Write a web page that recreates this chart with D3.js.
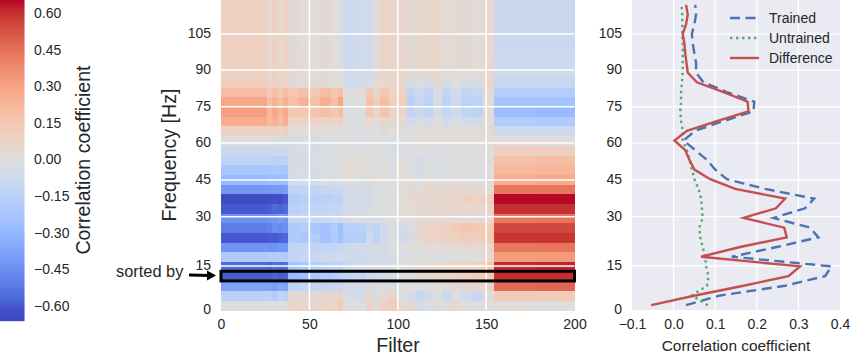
<!DOCTYPE html>
<html>
<head>
<meta charset="utf-8">
<script src="https://cdn.jsdelivr.net/npm/d3@7"></script>
<style>
html, body { margin: 0; padding: 0; background: #fff; }
svg { display: block; font-family: "Liberation Sans", Arial, sans-serif; }
text { fill: #262626; }
</style>
</head>
<body>
<svg id="chart" width="850" height="356"></svg>
<script>
var freqTicks = [0, 15, 30, 45, 60, 75, 90, 105];
// where each frequency label sits, in heatmap rows (the axis is not even)
var freqTickRows = [0, 4.54, 9.63, 13.42, 17.23, 20.98, 24.77, 28.48];
var filterTicks = [0, 50, 100, 150, 200];
var corrTicks = [-0.1, 0, 0.1, 0.2, 0.3, 0.4];
var colorbarTicks = [-0.6, -0.45, -0.3, -0.15, 0, 0.15, 0.3, 0.45, 0.6];

// column groups of the heatmap
var filterEdges = [0, 26, 29, 32, 35, 38, 44, 50, 56, 62, 66, 69, 75, 82, 86, 90, 95, 100, 105, 110, 115, 120, 125, 130, 136, 142, 148, 154.5, 178, 200];

// correlation x 100, first row is the lowest band
var corrRows = [
  [0, 0, 0, -1, 0, 7, 6, 6, 8, 6, 13, 1, -1, 9, 3, 10, 12, 5, 3, -4, -2, 3, -2, 4, 0, -2, 1, 2, 1],
  [-16, -14, -18, -12, -15, 3, 4, 3, 6, 3, 9, -3, -5, 4, -3, 5, 8, -2, -3, -10, -6, 0, -8, 0, -6, -10, 2, 12, 12],
  [-38, -38, -40, -36, -38, -14, -11, -12, -10, -9, -9, -6, -5, -4, -2, -2, -3, 0, 1, -1, 0, 1, 2, 3, 4, 5, 7, 46, 48],
  [-59, -59, -58, -59, -58, -28, -26, -22, -20, -18, -16, -13, -11, -8, -7, -5, -3, -1, 1, 3, 4, 5, 7, 8, 10, 12, 14, 60, 60],
  [-56, -58, -55, -57, -55, -25, -22, -18, -16, -14, -16, -9, -6, -6, -4, -4, -1, 0, 2, 3, 5, 4, 6, 8, 7, 9, 16, 61, 62],
  [-20, -18, -20, -18, -20, -12, -10, -10, -8, -7, -7, -7, -8, -5, -6, -4, -3, -2, -1, -1, 0, -1, 0, 0, 1, 1, 5, 32, 33],
  [-43, -44, -43, -42, -42, -13, -12, -13, -12, -11, -11, -8, -5, -5, -3, -4, -1, -1, 1, 0, 2, 1, 3, 2, 3, 4, 6, 43, 44],
  [-60, -59, -60, -58, -57, -20, -22, -18, -24, -20, -25, -18, -17, -8, -14, -6, -2, -8, -3, 4, 8, 8, 9, 10, 12, 11, 14, 59, 59],
  [-51, -49, -45, -47, -45, -20, -18, -22, -24, -19, -26, -16, -16, -10, -14, -6, -2, -6, -2, 5, 8, 8, 10, 12, 16, 14, 14, 55, 55],
  [-44, -43, -42, -40, -42, -11, -10, -10, -9, -8, -8, -4, -3, -3, -2, -2, 1, 2, -1, 4, 3, 4, 3, 2, 4, 3, 5, 43, 44],
  [-60, -59, -57, -58, -56, -16, -14, -13, -12, -11, -10, -5, -4, -3, -1, -1, 1, 2, 2, 5, 3, 5, 4, 6, 5, 4, 7, 60, 60],
  [-65, -65, -62, -63, -60, -18, -16, -16, -15, -14, -13, -6, -7, -5, -2, -1, 2, 2, 5, 3, 6, 4, 7, 6, 9, 8, 12, 65, 65],
  [-42, -42, -41, -41, -40, -14, -12, -13, -11, -9, -9, -4, -3, -5, -1, -2, 1, 2, 3, 2, 5, 3, 6, 4, 3, 5, 4, 43, 44],
  [-28, -27, -27, -26, -27, -5, -3, -4, -2, -3, -1, 1, -2, 3, -2, 2, -1, 1, 2, -1, 2, 0, 2, 1, 2, 0, 2, 26, 27],
  [-22, -22, -21, -22, -22, -3, -2, -3, -1, 0, 1, 2, 3, -1, 2, 1, -2, 2, -1, -3, -1, -2, 0, 1, 0, -1, 0, 22, 23],
  [-14, -14, -15, -14, -15, -3, -4, -2, -3, -2, -1, 3, 2, 0, -1, 1, -2, 2, -2, -4, -2, -3, -1, 0, -1, -2, 2, 18, 19],
  [-9, -9, -8, -9, -8, -3, -2, -3, -2, -2, -1, -1, 0, -1, -1, -2, -3, -1, -2, -1, -1, -2, 0, -1, 0, -1, 2, 10, 10],
  [0, -2, -2, -3, -2, -3, -2, -3, -2, -1, -2, -2, -2, -1, -1, 0, -2, -1, 0, 1, 1, 1, 2, 1, 1, 1, 2, 1, 1],
  [9, 8, 10, 7, 10, 2, 1, 2, 1, 2, 1, -1, -1, 2, -1, 3, 1, 2, -1, 1, 2, 1, 3, 2, 1, 2, 3, -8, -8],
  [26, 21, 25, 20, 25, 8, 8, 8, 8, 8, 9, 0, 0, 5, 2, 6, 3, 3, -6, -3, -5, -1, -5, -2, -5, -6, 2, -19, -20],
  [31, 23, 28, 22, 28, 15, 15, 16, 18, 15, 20, -1, -1, 15, 7, 17, 8, 8, -14, -9, -13, -3, -12, -7, -13, -14, 3, -27, -28],
  [28, 18, 24, 18, 25, 18, 24, 18, 25, 18, 28, -1, 0, 18, 10, 20, 10, 11, -16, -10, -15, -3, -14, -8, -15, -14, 3, -24, -24],
  [20, 13, 18, 14, 18, 15, 18, 15, 20, 15, 18, 1, 1, 13, 6, 14, 8, 8, -13, -8, -12, -2, -11, -6, -12, -10, 4, -18, -18],
  [11, 7, 9, 6, 8, 3, 2, 3, 3, 2, 2, -7, -6, -3, 2, 5, 6, 4, -5, -2, -3, 3, -3, 1, -3, -4, 6, -10, -10],
  [9, 5, 9, 5, 8, 3, 2, 1, 3, 1, -1, -7, -6, -5, 2, 6, 6, 5, 3, 4, 5, 5, 2, 3, 2, 2, 5, -7, -7],
  [9, 5, 9, 5, 8, 3, 2, 1, 3, 1, -2, -8, -7, -6, 2, 7, 7, 5, 3, 4, 6, 6, 2, 4, 3, 2, 5, -8, -8],
  [9, 5, 9, 5, 8, 3, 2, 1, 3, 1, -2, -8, -7, -6, 2, 7, 7, 5, 3, 4, 6, 6, 2, 4, 3, 2, 5, -8, -8],
  [10, 5, 9, 5, 8, 3, 1, 1, 3, 1, -2, -8, -7, -6, 2, 7, 7, 5, 3, 4, 6, 6, 2, 4, 3, 2, 5, -9, -9],
  [10, 5, 9, 5, 8, 3, 1, 1, 3, 1, -2, -8, -7, -6, 2, 7, 7, 5, 3, 4, 6, 6, 2, 4, 3, 2, 5, -9, -9],
  [10, 5, 9, 5, 8, 3, 1, 1, 3, 1, -2, -8, -7, -6, 2, 7, 7, 5, 3, 4, 6, 6, 2, 4, 3, 2, 5, -9, -9],
  [10, 5, 9, 5, 8, 3, 1, 1, 3, 1, -2, -8, -7, -6, 2, 7, 7, 5, 3, 4, 6, 6, 2, 4, 3, 2, 5, -9, -9],
  [10, 5, 9, 5, 8, 3, 1, 1, 3, 1, -2, -8, -7, -6, 2, 7, 7, 5, 3, 4, 6, 6, 2, 4, 3, 2, 5, -9, -9]
];

var trained = [0.03, 0.112, 0.268, 0.364, 0.38, 0.14, 0.248, 0.348, 0.328, 0.24, 0.316, 0.338, 0.22, 0.128, 0.1, 0.08, 0.052, 0.024, 0.052, 0.12, 0.192, 0.194, 0.128, 0.072, 0.054, 0.054, 0.05, 0.046, 0.044, 0.05, 0.054, 0.052];
var untrained = [0.082, 0.044, 0.08, 0.084, 0.078, 0.076, 0.07, 0.064, 0.062, 0.07, 0.068, 0.066, 0.06, 0.05, 0.044, 0.038, 0.032, 0.022, 0.022, 0.018, 0.016, 0.018, 0.018, 0.02, 0.022, 0.022, 0.022, 0.022, 0.021, 0.021, 0.021, 0.019];
var difference = [-0.054, 0.052, 0.168, 0.276, 0.304, 0.066, 0.16, 0.272, 0.266, 0.168, 0.246, 0.268, 0.148, 0.088, 0.05, 0.038, 0.028, 0.002, 0.032, 0.104, 0.18, 0.178, 0.12, 0.056, 0.034, 0.031, 0.028, 0.026, 0.022, 0.03, 0.034, 0.03];

var seriesNames = ["Trained", "Untrained", "Difference"];
var seriesColors = ["#4c72b0", "#55a868", "#c44e52"];
var seriesDash = ["10,5.5", "2.4,3.6", null];
var sortedRow = 3;

// matplotlib coolwarm
var coolwarm = ["#3b4cc0", "#444ecc", "#4d68d7", "#5775e1", "#6282ea", "#6c8ef1", "#779af7", "#82a5fb", "#8db0fe", "#98b9ff", "#a3c2ff", "#aec9fd", "#b8d0f9", "#c2d5f4", "#ccd9ee", "#d5dbe6", "#dddddd", "#e5d8d1", "#ecd3c5", "#f1ccb9", "#f5c4ad", "#f7bba0", "#f7b194", "#f7a687", "#f49a7b", "#f18d6f", "#ec7f63", "#e57058", "#de604d", "#d55042", "#cb3e38", "#c0282f", "#b40426"];

var svg = d3.select("#chart");
var color = d3.scaleSequential(d3.piecewise(d3.interpolateRgb, coolwarm)).domain([-0.655, 0.655]);

var rowY = d3.scaleLinear().domain([0, corrRows.length]).range([310, 0]);
var freqY = d3.scaleLinear().domain(freqTicks).range(freqTickRows.map(rowY));
var filterX = d3.scaleLinear().domain([0, 200]).range([221, 574.5]);
var corrX = d3.scaleLinear().domain([-0.1, 0.4]).range([632, 840]);
var cbarY = d3.scaleLinear().domain([-0.6, 0.6]).range([306, 13]);

// colorbar
svg.append("g").selectAll("rect").data(d3.range(0, 321))
    .enter().append("rect")
    .attr("x", 0)
    .attr("y", function(d) { return d; })
    .attr("width", 24.5)
    .attr("height", 1.2)
    .attr("fill", function(d) { return color(cbarY.invert(d + 0.5)); });

svg.append("g").selectAll("text").data(colorbarTicks)
    .enter().append("text")
    .attr("x", 34)
    .attr("y", function(d) { return cbarY(d); })
    .attr("dy", ".35em")
    .attr("font-size", 14)
    .text(function(d) { return d3.format(".2f")(d).replace("-", "\u2212"); });

svg.append("text")
    .attr("transform", "translate(90,160) rotate(-90)")
    .attr("text-anchor", "middle")
    .attr("font-size", 19.6)
    .text("Correlation coefficient");

// heatmap
var heat = svg.append("g").attr("shape-rendering", "crispEdges");
corrRows.forEach(function(row, i) {
    heat.append("g").selectAll("rect").data(row)
        .enter().append("rect")
        .attr("x", function(d, j) { return filterX(filterEdges[j]); })
        .attr("width", function(d, j) { return filterX(filterEdges[j + 1]) - filterX(filterEdges[j]) + 0.5; })
        .attr("y", rowY(i + 1))
        .attr("height", rowY(i) - rowY(i + 1) + 0.5)
        .attr("fill", function(d) { return color(d / 100); });
});

var heatGrid = svg.append("g").attr("stroke", "#fff").attr("stroke-width", 1.5);
heatGrid.selectAll("line.v").data(filterTicks.slice(1, -1))
    .enter().append("line").attr("class", "v")
    .attr("x1", filterX).attr("x2", filterX)
    .attr("y1", 0).attr("y2", 310);
heatGrid.selectAll("line.h").data(freqTicks.slice(1))
    .enter().append("line").attr("class", "h")
    .attr("y1", freqY).attr("y2", freqY)
    .attr("x1", 221).attr("x2", 574.5);

svg.append("rect")
    .attr("x", filterX(0))
    .attr("y", rowY(sortedRow + 1))
    .attr("width", filterX(200) - filterX(0))
    .attr("height", rowY(sortedRow) - rowY(sortedRow + 1))
    .attr("fill", "none")
    .attr("stroke", "#000")
    .attr("stroke-width", 3);

function cleanAxis(g) {
    g.select(".domain").remove();
    g.selectAll("line").remove();
    g.selectAll("text").attr("font-size", 14).attr("fill", "#262626").style("font-family", "inherit");
}

var minusFmt = function(d) { return String(d).replace("-", "\u2212"); };

svg.append("g").attr("transform", "translate(211,-1)")
    .call(d3.axisLeft(freqY).tickValues(freqTicks).tickSize(0).tickPadding(0))
    .call(cleanAxis);
svg.append("g").attr("transform", "translate(0,319)")
    .call(d3.axisBottom(filterX).tickValues(filterTicks).tickSize(0).tickPadding(0))
    .call(cleanAxis);

svg.append("text")
    .attr("transform", "translate(176,155) rotate(-90)")
    .attr("text-anchor", "middle")
    .attr("font-size", 19.6)
    .text("Frequency [Hz]");
svg.append("text")
    .attr("x", 398).attr("y", 351.5)
    .attr("text-anchor", "middle")
    .attr("font-size", 19.6)
    .text("Filter");

svg.append("text")
    .attr("x", 116).attr("y", 277)
    .attr("font-size", 16.4)
    .text("sorted by");
svg.append("path")
    .attr("d", d3.line()([[189, 275], [210, 275.5]]))
    .attr("stroke", "#000")
    .attr("stroke-width", 3)
    .attr("fill", "none");
svg.append("path")
    .attr("d", d3.line()([[207, 270.5], [216, 275.6], [207, 280.5]]) + "Z")
    .attr("fill", "#000");

// line panel
svg.append("rect")
    .attr("x", 632).attr("y", 0)
    .attr("width", 208).attr("height", 310)
    .attr("fill", "#eaeaf2");

var panelGrid = svg.append("g").attr("stroke", "#fff").attr("stroke-width", 1.3);
panelGrid.selectAll("line.v").data(corrTicks.slice(1, -1))
    .enter().append("line").attr("class", "v")
    .attr("x1", corrX).attr("x2", corrX)
    .attr("y1", 0).attr("y2", 310);
panelGrid.selectAll("line.h").data(freqTicks.slice(1))
    .enter().append("line").attr("class", "h")
    .attr("y1", freqY).attr("y2", freqY)
    .attr("x1", 632).attr("x2", 840);

var lineGen = d3.line()
    .x(function(d) { return corrX(d); })
    .y(function(d, i) { return rowY(i + 0.5); });

[trained, untrained, difference].forEach(function(series, k) {
    svg.append("path")
        .attr("d", lineGen(series))
        .attr("fill", "none")
        .attr("stroke", seriesColors[k])
        .attr("stroke-width", 2.4)
        .attr("stroke-dasharray", seriesDash[k]);
});

svg.append("g").attr("transform", "translate(622,-1)")
    .call(d3.axisLeft(freqY).tickValues(freqTicks).tickSize(0).tickPadding(0))
    .call(cleanAxis);
svg.append("g").attr("transform", "translate(0,319)")
    .call(d3.axisBottom(corrX).tickValues(corrTicks).tickSize(0).tickPadding(0).tickFormat(function(d) {
        return minusFmt(d3.format(".1f")(d));
    }))
    .call(cleanAxis);

svg.append("text")
    .attr("x", 736).attr("y", 351)
    .attr("text-anchor", "middle")
    .attr("font-size", 15.4)
    .text("Correlation coefficient");

// legend
var legend = svg.append("g").selectAll("g").data(seriesNames)
    .enter().append("g")
    .attr("transform", function(d, i) { return "translate(0," + (18 + i * 20) + ")"; });
legend.append("line")
    .attr("x1", 730).attr("x2", 759)
    .attr("stroke", function(d, i) { return seriesColors[i]; })
    .attr("stroke-width", 2.4)
    .attr("stroke-dasharray", function(d, i) { return seriesDash[i]; });
legend.append("text")
    .attr("x", 769)
    .attr("dy", ".35em")
    .attr("font-size", 14)
    .text(function(d) { return d; });
</script>
</body>
</html>
